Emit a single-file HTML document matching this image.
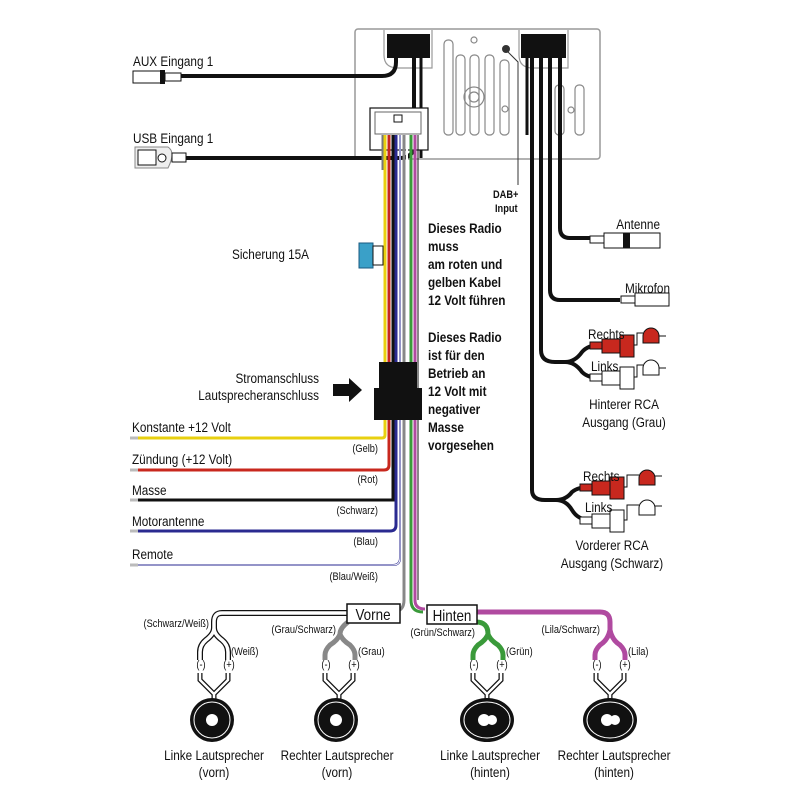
<!DOCTYPE html>
<html><head><meta charset="utf-8"><style>
html,body{margin:0;padding:0;background:#fff}
svg{display:block}
text{font-family:"Liberation Sans Narrow","Liberation Sans",sans-serif;fill:#111;transform:scaleX(.84);transform-box:fill-box;transform-origin:left center}
text[text-anchor="end"]{transform-origin:right center}
text[text-anchor="middle"]{transform-origin:center center}
.b{font-weight:bold;font-size:14px}
.l{font-size:14px}
.s{font-size:11px}
</style></head><body>
<svg width="801" height="801" viewBox="0 0 801 801" xmlns="http://www.w3.org/2000/svg">
<rect x="355" y="29" width="245" height="130" rx="3" fill="#fff" stroke="#999" stroke-width="1.5"/>
<g fill="none" stroke="#888" stroke-width="1.2">
<rect x="444" y="40" width="9" height="95" rx="4"/><rect x="456" y="55" width="9" height="80" rx="4"/>
<rect x="470" y="55" width="9" height="80" rx="4"/><rect x="485" y="55" width="9" height="80" rx="4"/>
<rect x="500" y="60" width="9" height="75" rx="4"/><rect x="575" y="85" width="9" height="50" rx="4"/>
<rect x="555" y="85" width="9" height="50" rx="4"/>
<circle cx="474" cy="97" r="10"/><circle cx="474" cy="97" r="5"/>
<circle cx="474" cy="40" r="3"/><circle cx="505" cy="109" r="3"/><circle cx="571" cy="110" r="3"/>
</g>
<circle cx="506" cy="49" r="4" fill="#333"/>
<path d="M384 30 V55 Q384 68 398 68 H432 V30" fill="#fff" stroke="#999" stroke-width="1.2"/>
<path d="M519 30 V55 Q519 68 533 68 H568 V30" fill="#fff" stroke="#999" stroke-width="1.2"/>
<rect x="387" y="34" width="43" height="24" fill="#111"/>
<rect x="521" y="34" width="45" height="24" fill="#111"/>
<path d="M508 52 L518 62 V185" fill="none" stroke="#333" stroke-width="1"/>
<text x="493" y="198" class="b" style="font-size:11px">DAB+</text>
<text x="495" y="212" class="b" style="font-size:11px">Input</text>
<path d="M180 76 H382 Q396 76 396 62 V58" fill="none" stroke="#111" stroke-width="4"/>
<rect x="133" y="71" width="30" height="12" fill="#fff" stroke="#111"/>
<rect x="160" y="70" width="5" height="14" fill="#111"/>
<rect x="165" y="73" width="16" height="8" fill="#fff" stroke="#111"/>
<text x="133" y="66" class="l">AUX Eingang 1</text>
<path d="M186 158 H400 Q414 158 414 144 V58" fill="none" stroke="#111" stroke-width="4"/>
<path d="M421 58 V158" stroke="#111" stroke-width="3"/>
<path d="M135 147 H168 Q176 152 168 168 H135 Z" fill="#eee" stroke="#888"/>
<rect x="138" y="150" width="18" height="15" fill="#fff" stroke="#111"/>
<circle cx="162" cy="158" r="4" fill="#fff" stroke="#111"/>
<rect x="172" y="153" width="14" height="9" fill="#fff" stroke="#111"/>
<text x="133" y="143" class="l">USB Eingang 1</text>
<rect x="370" y="108" width="58" height="42" fill="#fff" stroke="#111" stroke-width="1.2"/>
<rect x="375" y="112" width="46" height="22" fill="#fff" stroke="#666"/>
<rect x="394" y="115" width="8" height="7" fill="#fff" stroke="#111"/>
<g fill="none" stroke-width="3">
<path d="M383 135 V170" stroke="#777"/>
<path d="M385 135 V435 Q385 438 382 438 H130" stroke="#e8d010" stroke-width="3"/>
<path d="M389 135 V465 Q389 470 384 470 H130" stroke="#c8281e"/>
<path d="M393 135 V500 H130" stroke="#111"/>
<path d="M396 135 V525 Q396 531 390 531 H130" stroke="#2a2a90"/>
<path d="M400 135 V558 Q400 565 393 565 H130" stroke="#2a2a90" stroke-width="2"/>
<path d="M400 135 V558 Q400 565 393 565 H130" stroke="#fff" stroke-width="1"/>
<path d="M404 135 V600 Q404 612 392 612" stroke="#888"/>
<path d="M407 135 V600" stroke="#fff" stroke-width="2"/>
<path d="M411 135 V600 Q411 612 423 612" stroke="#3a9a3a"/>
<path d="M415 135 V600 Q415 609 425 609" stroke="#b04aa0"/>
<path d="M418 135 V600" stroke="#111" stroke-width="1"/>
</g>
<g stroke="#bbb" stroke-width="3"><path d="M130 438 H138 M130 470 H138 M130 500 H138 M130 531 H138 M130 565 H138"/></g>
<rect x="359" y="243" width="14" height="25" fill="#3aa0c8" stroke="#1a5a80"/>
<rect x="373" y="246" width="10" height="19" fill="#fff" stroke="#111"/>
<text x="232" y="259" class="l">Sicherung 15A</text>
<rect x="379" y="362" width="38" height="30" fill="#111"/>
<rect x="374" y="388" width="48" height="32" fill="#111"/>
<path d="M333 384 H349 V378 L362 390 L349 402 V396 H333 Z" fill="#111"/>
<text x="319" y="383" class="l" text-anchor="end">Stromanschluss</text>
<text x="319" y="400" class="l" text-anchor="end">Lautsprecheranschluss</text>
<text x="132" y="432" class="l">Konstante +12 Volt</text>
<text x="378" y="452" class="s" text-anchor="end">(Gelb)</text>
<text x="132" y="464" class="l">Zündung (+12 Volt)</text>
<text x="378" y="483" class="s" text-anchor="end">(Rot)</text>
<text x="132" y="495" class="l">Masse</text>
<text x="378" y="514" class="s" text-anchor="end">(Schwarz)</text>
<text x="132" y="526" class="l">Motorantenne</text>
<text x="378" y="545" class="s" text-anchor="end">(Blau)</text>
<text x="132" y="559" class="l">Remote</text>
<text x="378" y="580" class="s" text-anchor="end">(Blau/Weiß)</text>
<text x="428" y="233" class="b">Dieses Radio</text><text x="428" y="251" class="b">muss</text>
<text x="428" y="269" class="b">am roten und</text><text x="428" y="287" class="b">gelben Kabel</text>
<text x="428" y="305" class="b">12 Volt führen</text>
<text x="428" y="342" class="b">Dieses Radio</text><text x="428" y="360" class="b">ist für den</text>
<text x="428" y="378" class="b">Betrieb an</text><text x="428" y="396" class="b">12 Volt mit</text>
<text x="428" y="414" class="b">negativer</text><text x="428" y="432" class="b">Masse</text>
<text x="428" y="450" class="b">vorgesehen</text>
<g fill="none" stroke="#111" stroke-width="4">
<path d="M560 58 V228 Q560 238 570 238 H600"/>
<path d="M550 58 V290 Q550 300 560 300 H620"/>
<path d="M541 58 V350 Q541 362 555 362 H565 Q575 362 582 352 Q588 345 600 345"/>
<path d="M565 362 Q575 362 582 372 Q588 378 600 378"/>
<path d="M532 58 V490 Q532 500 545 500 H556 Q566 500 572 492 Q578 487 590 487"/>
<path d="M556 500 Q566 500 572 510 Q578 520 590 520"/>
</g>
<path d="M527 58 V135" stroke="#111" stroke-width="3"/>
<rect x="590" y="236" width="14" height="7" fill="#fff" stroke="#111"/>
<rect x="604" y="233" width="56" height="15" fill="#fff" stroke="#111"/>
<rect x="623" y="233" width="7" height="15" fill="#111"/>
<text x="660" y="229" class="l" text-anchor="end">Antenne</text>
<rect x="621" y="296" width="14" height="7" fill="#fff" stroke="#111"/>
<rect x="635" y="293" width="34" height="13" fill="#fff" stroke="#111"/>
<text x="670" y="293" class="l" text-anchor="end">Mikrofon</text>
<g stroke="#111">
<rect x="590" y="342" width="12" height="7" fill="#c8281e"/><rect x="602" y="339" width="18" height="14" fill="#c8281e"/><rect x="620" y="335" width="14" height="22" fill="#c8281e"/>
<path d="M634 345 H637 V333 H643" fill="none"/><path d="M643 336 A8 8 0 0 1 659 336 V343 H643 Z" fill="#c8281e"/><path d="M659 336 H666" />
<rect x="590" y="374" width="12" height="7" fill="#fff"/><rect x="602" y="371" width="18" height="14" fill="#fff"/><rect x="620" y="367" width="14" height="22" fill="#fff"/>
<path d="M634 377 H637 V365 H643" fill="none"/><path d="M643 368 A8 8 0 0 1 659 368 V375 H643 Z" fill="#fff"/><path d="M659 368 H666"/>
<rect x="580" y="484" width="12" height="7" fill="#c8281e"/><rect x="592" y="481" width="18" height="14" fill="#c8281e"/><rect x="610" y="477" width="14" height="22" fill="#c8281e"/>
<path d="M624 487 H627 V475 H639" fill="none"/><path d="M639 478 A8 8 0 0 1 655 478 V485 H639 Z" fill="#c8281e"/><path d="M655 476 H662"/>
<rect x="580" y="517" width="12" height="7" fill="#fff"/><rect x="592" y="514" width="18" height="14" fill="#fff"/><rect x="610" y="510" width="14" height="22" fill="#fff"/>
<path d="M624 520 H627 V505 H639" fill="none"/><path d="M639 508 A8 8 0 0 1 655 508 V515 H639 Z" fill="#fff"/><path d="M655 506 H662"/>
</g>
<text x="588" y="339" class="l">Rechts</text><text x="591" y="371" class="l">Links</text>
<text x="624" y="409" class="l" text-anchor="middle">Hinterer RCA</text>
<text x="624" y="427" class="l" text-anchor="middle">Ausgang (Grau)</text>
<text x="583" y="481" class="l">Rechts</text><text x="585" y="512" class="l">Links</text>
<text x="612" y="550" class="l" text-anchor="middle">Vorderer RCA</text>
<text x="612" y="568" class="l" text-anchor="middle">Ausgang (Schwarz)</text>
<g fill="none" stroke-linecap="butt">
<path d="M350 613 H222 Q214 613 214 622 V628 Q214 634 206 640 Q200 645 200 652 V660 M214 628 Q214 634 222 640 Q228 645 228 652 V660" stroke="#111" stroke-width="6"/>
<path d="M350 613 H222 Q214 613 214 622 V628 Q214 634 206 640 Q200 645 200 652 V660 M214 628 Q214 634 222 640 Q228 645 228 652 V660" stroke="#fff" stroke-width="3.5"/>
<path d="M348 622 Q340 628 340 634 Q338 640 330 645 Q325 650 325 655 V660 M340 634 Q342 640 350 645 Q355 650 355 655 V660" stroke="#888" stroke-width="5"/>
<path d="M476 622 Q488 622 488 634 Q486 640 478 645 Q473 650 473 655 V660 M488 634 Q490 640 498 645 Q503 650 503 655 V660" stroke="#3a9a3a" stroke-width="5"/>
<path d="M476 612 H600 Q610 612 610 622 V630 Q608 640 600 645 Q595 650 595 655 V660 M610 630 Q612 640 620 645 Q625 650 625 655 V660" stroke="#b04aa0" stroke-width="5"/>
</g>
<rect x="347" y="604" width="53" height="19" fill="#fff" stroke="#111" stroke-width="1.5"/>
<text x="373" y="620" class="l" text-anchor="middle" style="font-size:16px">Vorne</text>
<rect x="427" y="605" width="50" height="19" fill="#fff" stroke="#111" stroke-width="1.5"/>
<text x="452" y="621" class="l" text-anchor="middle" style="font-size:16px">Hinten</text>
<text x="209" y="627" text-anchor="end" class="s">(Schwarz/Weiß)</text><text x="231" y="655" class="s">(Weiß)</text>
<text x="336" y="633" text-anchor="end" class="s">(Grau/Schwarz)</text><text x="358" y="655" class="s">(Grau)</text>
<text x="475" y="636" text-anchor="end" class="s">(Grün/Schwarz)</text><text x="506" y="655" class="s">(Grün)</text>
<text x="600" y="633" text-anchor="end" class="s">(Lila/Schwarz)</text><text x="628" y="655" class="s">(Lila)</text>
<text x="201" y="668" class="s" text-anchor="middle">(-)</text><text x="229" y="668" class="s" text-anchor="middle">(+)</text>
<text x="326" y="668" class="s" text-anchor="middle">(-)</text><text x="354" y="668" class="s" text-anchor="middle">(+)</text>
<text x="474" y="668" class="s" text-anchor="middle">(-)</text><text x="502" y="668" class="s" text-anchor="middle">(+)</text>
<text x="597" y="668" class="s" text-anchor="middle">(-)</text><text x="625" y="668" class="s" text-anchor="middle">(+)</text>
<g fill="none" stroke="#111" stroke-width="5">
<path d="M200 673 V680 L214 694 V700 M228 673 V680 L214 694"/>
<path d="M325 673 V680 L339 694 V700 M353 673 V680 L339 694"/>
<path d="M473 673 V680 L487 694 V700 M501 673 V680 L487 694"/>
<path d="M596 673 V680 L610 694 V700 M624 673 V680 L610 694"/>
</g>
<g fill="none" stroke="#fff" stroke-width="2.5">
<path d="M200 673 V680 L214 694 V700 M228 673 V680 L214 694"/>
<path d="M325 673 V680 L339 694 V700 M353 673 V680 L339 694"/>
<path d="M473 673 V680 L487 694 V700 M501 673 V680 L487 694"/>
<path d="M596 673 V680 L610 694 V700 M624 673 V680 L610 694"/>
</g>
<circle cx="212" cy="720" r="22" fill="#111"/><circle cx="212" cy="720" r="18" fill="none" stroke="#fff"/><circle cx="212" cy="720" r="6" fill="#fff"/>
<circle cx="336" cy="720" r="22" fill="#111"/><circle cx="336" cy="720" r="18" fill="none" stroke="#fff"/><circle cx="336" cy="720" r="6" fill="#fff"/>
<ellipse cx="487" cy="720" rx="27" ry="22" fill="#111"/><ellipse cx="487" cy="720" rx="23" ry="18" fill="none" stroke="#fff"/><circle cx="484" cy="720" r="6" fill="#fff"/><circle cx="492" cy="720" r="5" fill="#fff"/>
<ellipse cx="610" cy="720" rx="27" ry="22" fill="#111"/><ellipse cx="610" cy="720" rx="23" ry="18" fill="none" stroke="#fff"/><circle cx="607" cy="720" r="6" fill="#fff"/><circle cx="615" cy="720" r="5" fill="#fff"/>
<text x="214" y="760" class="l" text-anchor="middle">Linke Lautsprecher</text><text x="214" y="777" class="l" text-anchor="middle">(vorn)</text>
<text x="337" y="760" class="l" text-anchor="middle">Rechter Lautsprecher</text><text x="337" y="777" class="l" text-anchor="middle">(vorn)</text>
<text x="490" y="760" class="l" text-anchor="middle">Linke Lautsprecher</text><text x="490" y="777" class="l" text-anchor="middle">(hinten)</text>
<text x="614" y="760" class="l" text-anchor="middle">Rechter Lautsprecher</text><text x="614" y="777" class="l" text-anchor="middle">(hinten)</text>
</svg>
</body></html>
